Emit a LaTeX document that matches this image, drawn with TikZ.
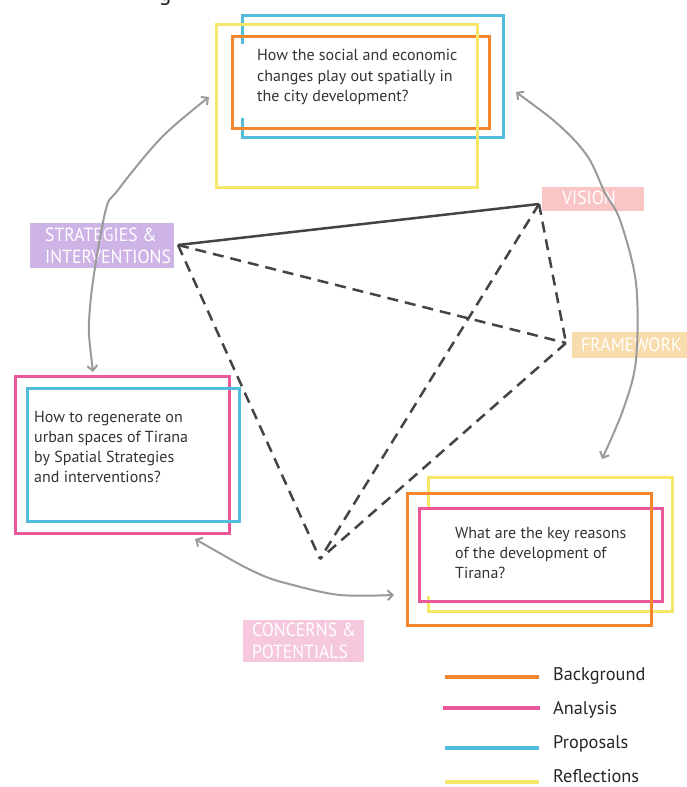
\documentclass[tikz,border=0pt]{standalone}
\usepackage{fontspec}
\setmainfont{PT Sans}
\newfontfamily\labfont{PT Sans}[FakeStretch=0.93]
\usetikzlibrary{arrows.meta}
\definecolor{cOr}{HTML}{F5862E}
\definecolor{cPk}{HTML}{E8589B}
\definecolor{cBl}{HTML}{52BCDD}
\definecolor{cYe}{HTML}{F6E66A}
\definecolor{cGr}{HTML}{9A9A9A}
\definecolor{cDk}{HTML}{444444}
\definecolor{cTx}{HTML}{333333}
\definecolor{fSt}{HTML}{CEB4E6}
\definecolor{fVi}{HTML}{F9C5C5}
\definecolor{fFr}{HTML}{F8DCAB}
\definecolor{fCo}{HTML}{F6C8DE}
\begin{document}
\begin{tikzpicture}[x=1pt,y=-1pt,
  frame/.style={line width=3pt},
  qtext/.style={font=\fontsize{16}{20.3}\selectfont, text=cTx, align=left, inner sep=0pt},
  lab/.style={font=\labfont\fontsize{19}{22}\selectfont, text=white, align=left, inner sep=0pt},
  labbox/.style={inner sep=0pt, anchor=north west},
  legtext/.style={font=\fontsize{18.3}{20}\selectfont, text=black!85, inner sep=0pt, anchor=west},
  legline/.style={line width=3.5pt},
  dashedge/.style={cDk, line width=2.5pt, dash pattern=on 11pt off 7pt},
  solidedge/.style={cDk, line width=2.5pt},
  garrow/.style={cGr, line width=2pt, {Straight Barb[length=5pt,width=10pt]}-{Straight Barb[length=5pt,width=10pt]}}
]
\useasboundingbox (0,0) rectangle (687,787);

% cut-off title fragment at the top edge
\node[font=\fontsize{24}{24}\selectfont, text=black!85, inner sep=0pt, anchor=base] (ttl) at (165,1) {g};

% top group
\draw[frame, cBl] (242,44) -- (242,15) -- (503,15) -- (503,137) -- (242,137) -- (242,118);
\draw[frame, cOr] (232,36) rectangle (489,128);
\draw[frame, cYe] (216,24) rectangle (477,187);
\node[qtext, anchor=west] (qtop) at (257,77) {How the social and economic\\changes play out spatially in\\the city development?};

% left group
\draw[frame, cPk] (15,376) rectangle (229,533);
\draw[frame, cBl] (27,388) rectangle (239,521);
\node[qtext, anchor=west] (qleft) at (34,447) {How to regenerate on\\urban spaces of Tirana\\by Spatial Strategies\\and interventions?};

% right group
\draw[frame, cYe] (428,510) -- (428,477) -- (672,477) -- (672,611) -- (428,611) -- (428,596);
\draw[frame, cPk] (419,508) rectangle (662,601);
\draw[frame, cOr] (407,493) rectangle (651,625);
\node[qtext, anchor=west] (qright) at (455,553) {What are the key reasons\\of the development of\\Tirana?};

% labels
\node[labbox, fill=fSt, minimum width=144pt, minimum height=45pt] (strat) at (30,223) {};
\node[lab, anchor=west] (stratT) at (45,246) {STRATEGIES \&\\INTERVENTIONS};
\node[labbox, fill=fVi, minimum width=102pt, minimum height=24pt] (vis) at (542,187) {};
\node[lab] (visT) at (589,198) {VISION};
\node[labbox, fill=fFr, minimum width=116pt, minimum height=26pt] (frm) at (572,332) {};
\node[lab, anchor=west] (frmT) at (581,345) {FRAMEWORK};
\node[labbox, fill=fCo, minimum width=121pt, minimum height=42pt] (con) at (243,620) {};
\node[lab, anchor=west] (conT) at (252,641) {CONCERNS \&\\POTENTIALS};

% graph edges
\coordinate (S) at (178,245);
\coordinate (V) at (539,204);
\coordinate (F) at (566,343);
\coordinate (C) at (320,559);
\draw[solidedge] (S) -- (V);
\draw[dashedge] (S) -- (F);
\draw[dashedge] (S) -- (C);
\draw[dashedge] (V) -- (C);
\draw[dashedge] (V) -- (F);
\draw[dashedge] (F) -- (C);

% gray arrows
\draw[garrow] plot[smooth, tension=0.55] coordinates {(93,372) (90,307) (105,213) (118,190) (162,137) (209,97)};
\draw[garrow] plot[smooth, tension=0.55] coordinates {(516,92) (561,127) (588,157) (605,193) (620,220) (636,283) (636,360) (623,410) (602,459)};
\draw[garrow] plot[smooth, tension=0.55] coordinates {(195,539) (257,573) (293,585) (340,595) (394,595)};

% legend
\draw[legline, cOr] (445,677) -- (539,677);
\draw[legline, cPk] (443,708) -- (540,708);
\draw[legline, cBl] (445,748) -- (539,748);
\draw[legline, cYe] (445,782) -- (539,782);
\node[legtext] (lgB) at (553,676) {Background};
\node[legtext] (lgA) at (553,710) {Analysis};
\node[legtext] (lgP) at (553,744) {Proposals};
\node[legtext] (lgR) at (553,776) {Reflections};
\end{tikzpicture}
\end{document}
